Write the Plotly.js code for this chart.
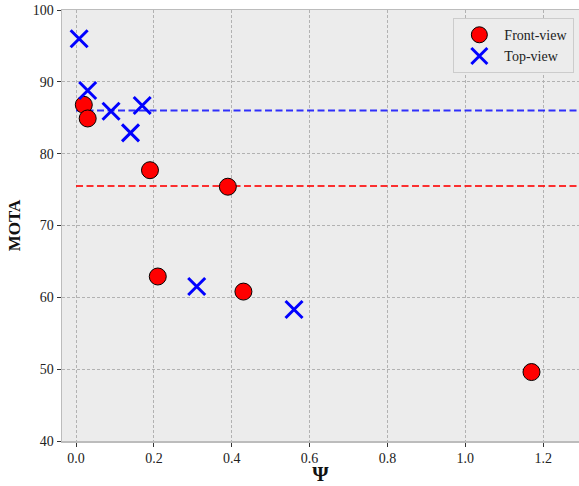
<!DOCTYPE html>
<html>
<head>
<meta charset="utf-8">
<script src="https://cdn.plot.ly/plotly-3.0.1.min.js"></script>
<style>html,body{margin:0;padding:0;background:#fff}#chart{width:579px;height:486px}</style>
</head>
<body>
<div id="chart"></div>
<script>
const frontPsi = [0.02, 0.03, 0.19, 0.39, 0.21, 0.43, 1.17];
const frontMota = [86.8, 84.9, 77.7, 75.4, 62.9, 60.8, 49.6];
const topPsi = [0.008, 0.03, 0.09, 0.14, 0.17, 0.31, 0.56];
const topMota = [96.0, 88.8, 85.9, 82.9, 86.7, 61.5, 58.3];
const refX = [0, 1.4];
const frontRef = [75.5, 75.5];
const topRef = [86.0, 86.0];

const font = "'Liberation Serif', 'DejaVu Serif', serif";
const traces = [
  {x: refX, y: topRef, mode: 'lines', showlegend: false, hoverinfo: 'skip',
   line: {color: 'rgba(0,0,255,0.8)', width: 2, dash: '7px,3.5px'}},
  {x: refX, y: frontRef, mode: 'lines', showlegend: false, hoverinfo: 'skip',
   line: {color: 'rgba(255,0,0,0.8)', width: 2, dash: '7px,3.5px'}},
  {x: frontPsi, y: frontMota, mode: 'markers', name: 'Front-view',
   marker: {symbol: 'circle', size: 17, color: '#ff0000', line: {color: '#000', width: 1}}},
  {x: topPsi, y: topMota, mode: 'markers', name: 'Top-view',
   marker: {symbol: 'x-thin-open', size: 17, color: '#0000ff', line: {color: '#0000ff', width: 3}}}
];
const layout = {
  width: 579, height: 486,
  margin: {l: 62, r: 0, t: 10, b: 45},
  paper_bgcolor: '#ffffff', plot_bgcolor: '#ececec',
  font: {family: font, size: 14, color: '#222'},
  showlegend: true,
  legend: {x: 0.991, xanchor: 'right', y: 0.981, yanchor: 'top',
    bgcolor: '#ececec', bordercolor: '#cccccc', borderwidth: 1,
    font: {family: font, size: 14, color: '#222'}, itemsizing: 'trace', itemwidth: 40,
    tracegroupgap: 0},
  xaxis: {range: [-0.036, 1.292], tickvals: [0, 0.2, 0.4, 0.6, 0.8, 1.0, 1.2],
    ticktext: ['0.0','0.2','0.4','0.6','0.8','1.0','1.2'],
    showgrid: true, gridcolor: '#b2b2b2', griddash: '3px,2px', gridwidth: 1,
    zeroline: false, showline: true, linecolor: '#bcbcbc', linewidth: 1.5, mirror: true,
    ticks: 'outside', ticklen: 4, tickcolor: '#333', tickfont: {family: font, size: 14, color: '#222'},
    title: {text: '<b>Ψ</b>', font: {family: font, size: 21, color: '#111'}, standoff: 8}},
  yaxis: {range: [40, 100], tickvals: [40, 50, 60, 70, 80, 90, 100],
    showgrid: true, gridcolor: '#b2b2b2', griddash: '3px,2px', gridwidth: 1,
    zeroline: false, showline: true, linecolor: '#bcbcbc', linewidth: 1.5, mirror: true,
    ticks: 'outside', ticklen: 4, tickcolor: '#333', tickfont: {family: font, size: 14, color: '#222'},
    title: {text: '<b>MOTA</b>', font: {family: font, size: 17, color: '#111'}, standoff: 8}}
};
Plotly.newPlot('chart', traces, layout, {displayModeBar: false, staticPlot: true});
</script>
</body>
</html>
